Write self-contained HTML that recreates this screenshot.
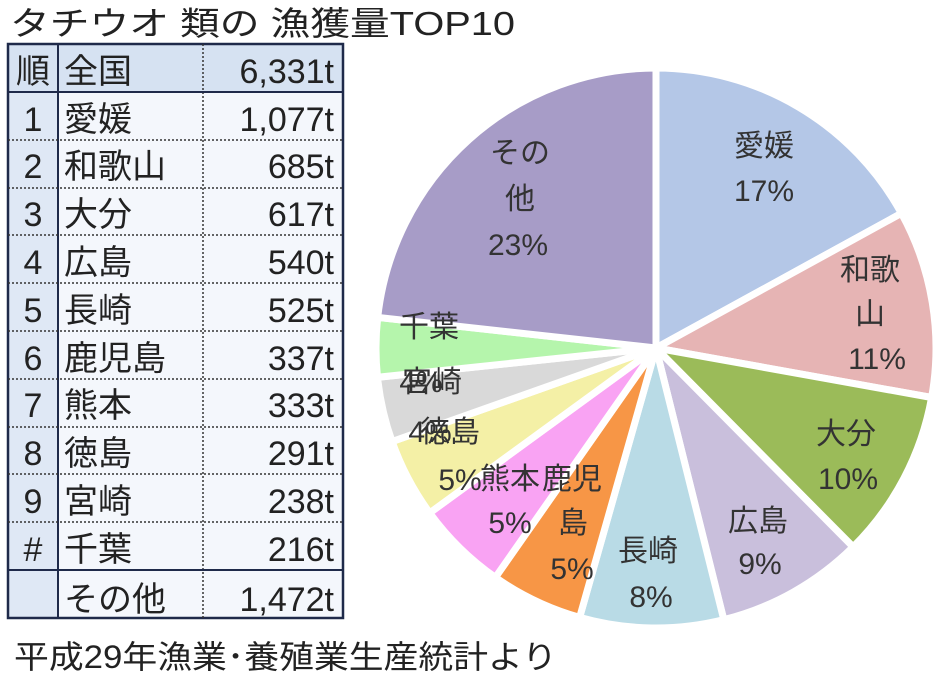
<!DOCTYPE html>
<html><head><meta charset="utf-8"><style>
body{margin:0;background:#fff;}
svg text{font-family:"Liberation Sans","Noto Sans CJK JP",sans-serif;}
</style></head><body>
<svg width="952" height="678" viewBox="0 0 952 678" xmlns="http://www.w3.org/2000/svg">
<rect width="952" height="678" fill="#fff"/>
<text x="10" y="35" font-size="33" fill="#222" textLength="505" lengthAdjust="spacingAndGlyphs">タチウオ 類の 漁獲量TOP10</text>
<!-- table -->
<rect x="8" y="44" width="335" height="574" fill="#f4f7fc"/>
<rect x="8" y="44" width="50" height="574" fill="#dfe8f5"/>
<rect x="8" y="44" width="335" height="48" fill="#d6e2f2"/>
<rect x="8" y="44" width="335" height="574" fill="none" stroke="#1f2a4a" stroke-width="2.5"/>
<line x1="58" y1="44" x2="58" y2="618" stroke="#1f2a4a" stroke-width="2"/>
<line x1="203" y1="44" x2="203" y2="618" stroke="#333" stroke-width="1.5" stroke-dasharray="2,2"/>
<line x1="8" y1="92" x2="343" y2="92" stroke="#1f2a4a" stroke-width="2"/>
<line x1="8" y1="570" x2="343" y2="570" stroke="#1f2a4a" stroke-width="2"/>
<g stroke="#333" stroke-width="1.5" stroke-dasharray="2,2">
<line x1="8" y1="140" x2="343" y2="140"/><line x1="8" y1="188" x2="343" y2="188"/>
<line x1="8" y1="235" x2="343" y2="235"/><line x1="8" y1="283" x2="343" y2="283"/>
<line x1="8" y1="331" x2="343" y2="331"/><line x1="8" y1="379" x2="343" y2="379"/>
<line x1="8" y1="427" x2="343" y2="427"/><line x1="8" y1="474" x2="343" y2="474"/>
<line x1="8" y1="522" x2="343" y2="522"/>
</g>
<g font-size="34" fill="#222">
<text x="33" y="83" text-anchor="middle">順</text><text x="64" y="83">全国</text><text x="334" y="83" text-anchor="end">6,331t</text>
<text x="33" y="131" text-anchor="middle">1</text><text x="64" y="131">愛媛</text><text x="334" y="131" text-anchor="end">1,077t</text>
<text x="33" y="178" text-anchor="middle">2</text><text x="64" y="178">和歌山</text><text x="334" y="178" text-anchor="end">685t</text>
<text x="33" y="226" text-anchor="middle">3</text><text x="64" y="226">大分</text><text x="334" y="226" text-anchor="end">617t</text>
<text x="33" y="274" text-anchor="middle">4</text><text x="64" y="274">広島</text><text x="334" y="274" text-anchor="end">540t</text>
<text x="33" y="322" text-anchor="middle">5</text><text x="64" y="322">長崎</text><text x="334" y="322" text-anchor="end">525t</text>
<text x="33" y="370" text-anchor="middle">6</text><text x="64" y="370">鹿児島</text><text x="334" y="370" text-anchor="end">337t</text>
<text x="33" y="417" text-anchor="middle">7</text><text x="64" y="417">熊本</text><text x="334" y="417" text-anchor="end">333t</text>
<text x="33" y="465" text-anchor="middle">8</text><text x="64" y="465">徳島</text><text x="334" y="465" text-anchor="end">291t</text>
<text x="33" y="513" text-anchor="middle">9</text><text x="64" y="513">宮崎</text><text x="334" y="513" text-anchor="end">238t</text>
<text x="33" y="561" text-anchor="middle">#</text><text x="64" y="561">千葉</text><text x="334" y="561" text-anchor="end">216t</text>
<text x="64" y="611">その他</text><text x="334" y="611" text-anchor="end">1,472t</text>
</g>
<text x="14" y="668" font-size="32" fill="#222" textLength="543" lengthAdjust="spacingAndGlyphs">平成29年漁業･養殖業生産統計より</text>
<!-- pie -->
<g stroke="#fff" stroke-width="7" stroke-linejoin="round">
<path d="M656,348 L656,68 A280,280 0 0 1 901.4,213.3 Z" fill="#b4c7e7"/>
<path d="M656,348 L901.4,213.3 A280,280 0 0 1 931.6,397.5 Z" fill="#e6b4b4"/>
<path d="M656,348 L931.6,397.5 A280,280 0 0 1 853.1,546.9 Z" fill="#9bbb59"/>
<path d="M656,348 L853.1,546.9 A280,280 0 0 1 723.8,619.7 Z" fill="#c9bfdc"/>
<path d="M656,348 L723.8,619.7 A280,280 0 0 1 579.6,617.4 Z" fill="#b9dbe6"/>
<path d="M656,348 L579.6,617.4 A280,280 0 0 1 495.4,577.4 Z" fill="#f79646"/>
<path d="M656,348 L495.4,577.4 A280,280 0 0 1 429.7,512.9 Z" fill="#f9a3f3"/>
<path d="M656,348 L429.7,512.9 A280,280 0 0 1 392.1,441.6 Z" fill="#f4f0a6"/>
<path d="M656,348 L392.1,441.6 A280,280 0 0 1 377.5,377.3 Z" fill="#d9d9d9"/>
<path d="M656,348 L377.5,377.3 A280,280 0 0 1 377.7,317.4 Z" fill="#b5f5ac"/>
<path d="M656,348 L377.7,317.4 A280,280 0 0 1 656,68 Z" fill="#a79cc7"/>
</g>
<g font-size="30" fill="#333" text-anchor="middle">
<text x="764" y="156">愛媛</text><text x="764" y="201">17%</text>
<text x="870" y="280">和歌</text><text x="870" y="324">山</text><text x="877" y="369">11%</text>
<text x="846" y="444">大分</text><text x="848" y="489">10%</text>
<text x="758" y="531">広島</text><text x="760" y="574">9%</text>
<text x="648" y="561">長崎</text><text x="651" y="607">8%</text>
<text x="520" y="163">その</text><text x="520" y="209">他</text><text x="518" y="255">23%</text>
<text x="429" y="337">千葉</text>
<text x="432" y="392">宮崎</text><text x="421" y="392">4%</text>
<text x="450" y="442">徳島</text><text x="430" y="442">4%</text>
<text x="460" y="490">5%</text>
<text x="510" y="489">熊本</text><text x="510" y="533">5%</text>
<text x="572" y="489">鹿児</text><text x="573" y="533">島</text><text x="572" y="579">5%</text>
</g>
</svg>
</body></html>
